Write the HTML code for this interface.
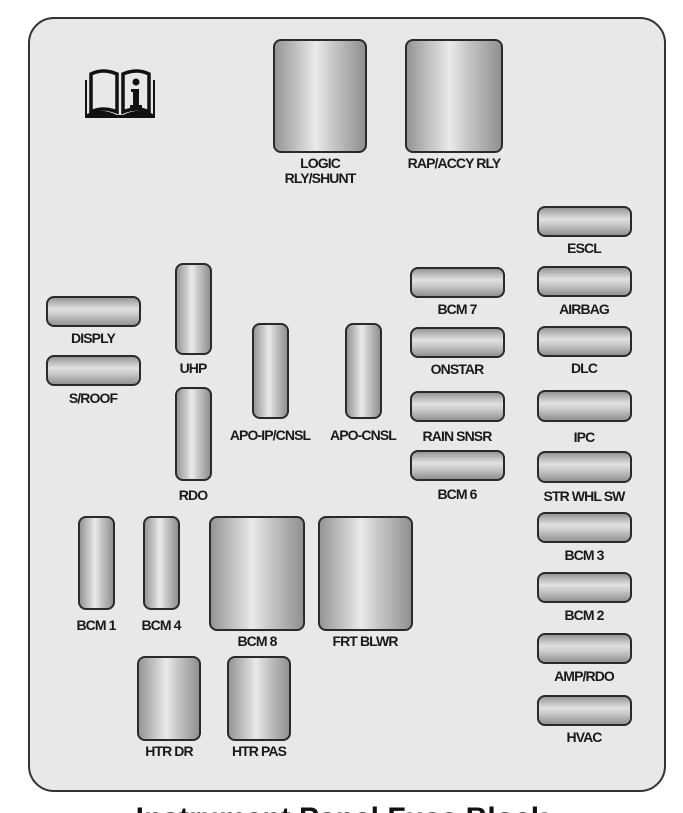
<!DOCTYPE html>
<html><head><meta charset="utf-8"><style>
html,body{margin:0;width:683px;height:813px;overflow:hidden}
body{background:#fff;position:relative;font-family:"Liberation Sans",sans-serif}
.box{position:absolute;left:28px;top:17px;width:634px;height:771px;border:2px solid #333;border-radius:26px;background:#e8e8e8}
.f{position:absolute;border:2px solid #2a2a2a;border-radius:8px;box-sizing:border-box}
.h{background:linear-gradient(to bottom,#979797,#e0e0e0 40%,#cccccc 60%,#929292)}
.v{background:linear-gradient(to right,#959595,#d6d6d6 35%,#eaeaea 45%,#c6c6c6 65%,#909090)}
.l{position:absolute;font-weight:bold;font-size:14px;letter-spacing:-0.9px;color:#1a1a1a;text-align:center;width:140px;line-height:15px;transform:translateX(-50%)}
.t{position:absolute;left:0;width:683px;top:804px;text-align:center;font-weight:bold;font-size:30px;line-height:30px;color:#111}
</style></head><body>
<div class="box"></div>
<svg style="position:absolute;left:83px;top:64px" width="74" height="56" viewBox="0 0 74 56">
<path d="M2 16 L4 16 L4 50 Q18 43 34 51 L40 51 Q56 43 70 50 L70 16 L72 16 L72 54 L2 54 Z" fill="#111"/>
<path d="M8 10 Q20 4 34 10 L34 48 Q20 42 8 48 Z" fill="none" stroke="#111" stroke-width="3.5"/>
<path d="M40 10 Q54 4 66 10 L66 48 Q54 42 40 48 Z" fill="none" stroke="#111" stroke-width="3.5"/>
<circle cx="53" cy="18" r="3.5" fill="#111"/>
<path d="M48 25 L56 25 L56 41 L59 41 L59 44 L47 44 L47 41 L50 41 L50 28 L48 28 Z" fill="#111"/>
</svg>
<div class="f v" style="left:273px;top:39px;width:94px;height:114px"></div>
<div class="l" style="left:320px;top:156px">LOGIC<br>RLY/SHUNT</div>
<div class="f v" style="left:405px;top:39px;width:98px;height:114px"></div>
<div class="l" style="left:454px;top:156px">RAP/ACCY RLY</div>

<div class="f h" style="left:537px;top:206px;width:95px;height:31px"></div><div class="l" style="left:584px;top:241px">ESCL</div>
<div class="f h" style="left:537px;top:266px;width:95px;height:31px"></div><div class="l" style="left:584px;top:302px">AIRBAG</div>
<div class="f h" style="left:537px;top:326px;width:95px;height:31px"></div><div class="l" style="left:584px;top:361px">DLC</div>
<div class="f h" style="left:537px;top:390px;width:95px;height:32px"></div><div class="l" style="left:584px;top:430px">IPC</div>
<div class="f h" style="left:537px;top:451px;width:95px;height:32px"></div><div class="l" style="left:584px;top:489px">STR WHL SW</div>
<div class="f h" style="left:537px;top:512px;width:95px;height:31px"></div><div class="l" style="left:584px;top:548px">BCM 3</div>
<div class="f h" style="left:537px;top:572px;width:95px;height:31px"></div><div class="l" style="left:584px;top:608px">BCM 2</div>
<div class="f h" style="left:537px;top:633px;width:95px;height:31px"></div><div class="l" style="left:584px;top:669px">AMP/RDO</div>
<div class="f h" style="left:537px;top:695px;width:95px;height:31px"></div><div class="l" style="left:584px;top:730px">HVAC</div>

<div class="f h" style="left:410px;top:267px;width:95px;height:31px"></div><div class="l" style="left:457px;top:302px">BCM 7</div>
<div class="f h" style="left:410px;top:327px;width:95px;height:31px"></div><div class="l" style="left:457px;top:362px">ONSTAR</div>
<div class="f h" style="left:410px;top:391px;width:95px;height:31px"></div><div class="l" style="left:457px;top:429px">RAIN SNSR</div>
<div class="f h" style="left:410px;top:450px;width:95px;height:31px"></div><div class="l" style="left:457px;top:487px">BCM 6</div>

<div class="f h" style="left:46px;top:296px;width:95px;height:31px"></div><div class="l" style="left:93px;top:331px">DISPLY</div>
<div class="f h" style="left:46px;top:355px;width:95px;height:31px"></div><div class="l" style="left:93px;top:391px">S/ROOF</div>

<div class="f v" style="left:175px;top:263px;width:37px;height:92px"></div><div class="l" style="left:193px;top:361px">UHP</div>
<div class="f v" style="left:175px;top:387px;width:37px;height:94px"></div><div class="l" style="left:193px;top:488px">RDO</div>
<div class="f v" style="left:252px;top:323px;width:37px;height:96px"></div><div class="l" style="left:270px;top:428px">APO-IP/CNSL</div>
<div class="f v" style="left:345px;top:323px;width:37px;height:96px"></div><div class="l" style="left:363px;top:428px">APO-CNSL</div>

<div class="f v" style="left:78px;top:516px;width:37px;height:94px"></div><div class="l" style="left:96px;top:618px">BCM 1</div>
<div class="f v" style="left:143px;top:516px;width:37px;height:94px"></div><div class="l" style="left:161px;top:618px">BCM 4</div>
<div class="f v" style="left:209px;top:516px;width:96px;height:115px"></div><div class="l" style="left:257px;top:634px">BCM 8</div>
<div class="f v" style="left:318px;top:516px;width:95px;height:115px"></div><div class="l" style="left:365px;top:634px">FRT BLWR</div>
<div class="f v" style="left:137px;top:656px;width:64px;height:85px"></div><div class="l" style="left:169px;top:744px">HTR DR</div>
<div class="f v" style="left:227px;top:656px;width:64px;height:85px"></div><div class="l" style="left:259px;top:744px">HTR PAS</div>

<div class="t">Instrument Panel Fuse Block</div>
</body></html>
